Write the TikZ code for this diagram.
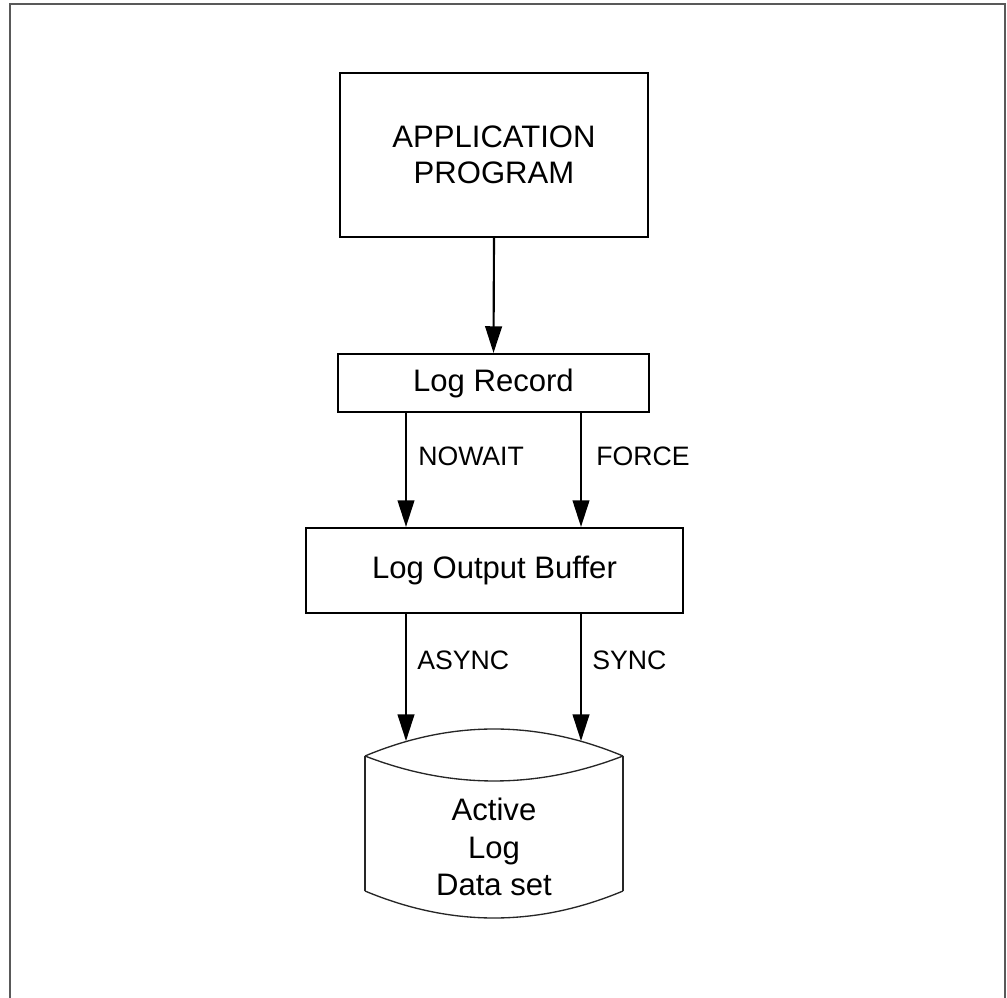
\documentclass[tikz,border=0pt]{standalone}
\usepackage{fontspec}
\setmainfont{Liberation Sans}
\usetikzlibrary{arrows.meta,calc}
\begin{document}
\begin{tikzpicture}[x=0.75pt,y=-0.75pt,
  box/.style={draw=black,line width=1.6pt,inner sep=0pt,align=center,font=\fontsize{23.3}{27}\selectfont},
  arr/.style={line width=1.6pt,-{Triangle[length=20pt,width=12.5pt]}},
  lbl/.style={anchor=west,inner sep=0pt,font=\fontsize{20}{24}\selectfont},
  cylline/.style={line width=1pt,draw=black!85},
  frameline/.style={line width=1.5pt,draw=black!65}]
\useasboundingbox (0,0) rectangle (1007,998);
% outer frame (open at the bottom)
\draw[frameline] (10,998) -- (10,4) -- (1005,4) -- (1005,998);
% boxes
\node[box,minimum width=231pt,minimum height=123pt] (app) at (494,155) {APPLICATION\\PROGRAM};
\node[box,minimum width=233.25pt,minimum height=43.5pt] (lr) at (493.5,383) {Log Record};
\node[box,minimum width=282.75pt,minimum height=63.75pt] (lob) at (494.5,570.5) {Log Output Buffer};
% cylinder
\draw[cylline] (365,756) .. controls (451,720) and (537,720) .. (623,756);
\draw[cylline] (365,756) .. controls (451,789.3) and (537,789.3) .. (623,756);
\draw[cylline] (365,756) -- (365,891);
\draw[cylline] (623,756) -- (623,891);
\draw[cylline] (365,891) .. controls (451,927) and (537,927) .. (623,891);
\node[inner sep=0pt,align=center,font=\fontsize{23.3}{28}\selectfont] (cyl) at (494,847) {Active\\Log\\Data set};
% helper coordinates
\coordinate (xl) at (406,0);
\coordinate (xr) at (581,0);
\coordinate (tl) at (406,741);
\coordinate (tr) at (581,741);
% connectors
\draw[arr] (app.south) -- (lr.north);
\draw[arr] (lr.south -| xl) -- (lob.north -| xl);
\draw[arr] (lr.south -| xr) -- (lob.north -| xr);
\draw[arr] (lob.south -| xl) -- (tl);
\draw[arr] (lob.south -| xr) -- (tr);
% labels
\node[lbl] (nowait) at (418,456) {NOWAIT};
\node[lbl] (force) at (596,456) {FORCE};
\node[lbl] (async) at (417,660) {ASYNC};
\node[lbl] (sync) at (592,660) {SYNC};
\end{tikzpicture}
\end{document}
